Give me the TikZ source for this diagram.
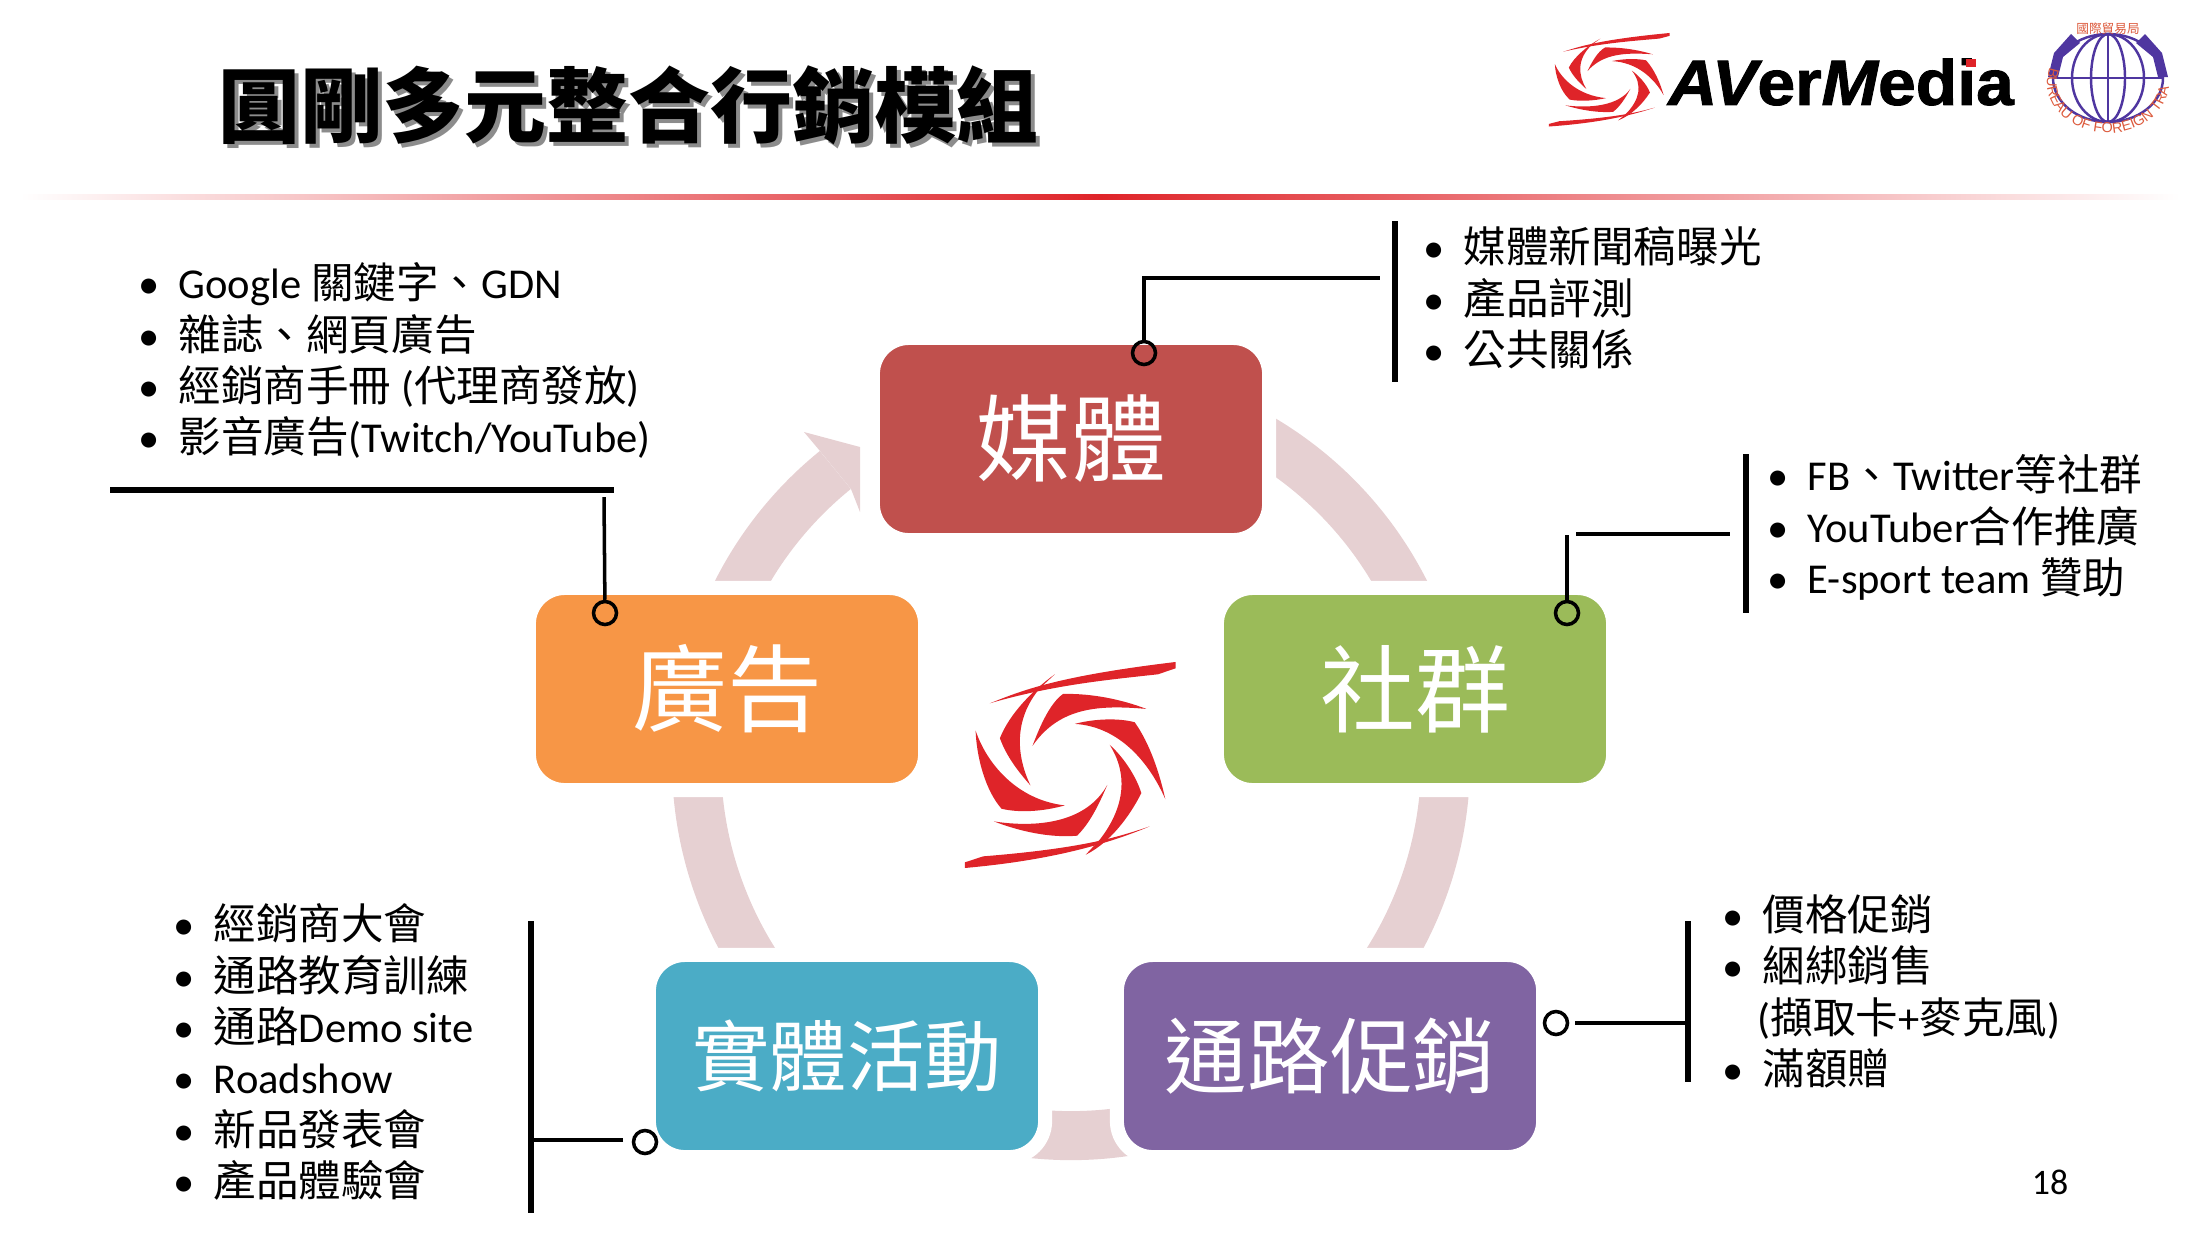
\documentclass[tikz,border=0pt]{standalone}
\usepackage{fontspec}
\usepackage{xcolor}
\usetikzlibrary{decorations.text}
\setmainfont{Carlito}
\newfontfamily\zhfont{Noto Sans CJK TC}
\newfontfamily\logofont{Liberation Sans}[FakeStretch=1.06,BoldFeatures={FakeBold=1.5},BoldItalicFeatures={FakeBold=1.5}]
\newfontfamily\sealfont{Liberation Sans}
\newcommand{\zh}[1]{{\zhfont #1}}
\newcommand{\bul}{\makebox[0.40cm][l]{•}}
\setlength{\lineskiplimit}{-30pt}
\definecolor{ringpink}{HTML}{E6D0D2}
\definecolor{swirlred}{HTML}{DF2429}
\definecolor{sealblue}{HTML}{4F36A0}
\definecolor{sealred}{HTML}{DC5A3C}
\definecolor{mediared}{HTML}{C0504D}
\definecolor{socialgreen}{HTML}{9BBB59}
\definecolor{advertorange}{HTML}{F79646}
\definecolor{eventteal}{HTML}{4BACC6}
\definecolor{channelpurple}{HTML}{8064A2}
\newcommand{\swirlshape}{%
  \fill[swirlred] (210,190) .. controls (300,155) and (400,110) .. (768,66) -- (768,85) -- (715,103) .. controls (560,120) and (400,135) .. (210,190) -- cycle;
  \fill[swirlred] (690,560) .. controls (600,590) and (500,625) .. (190,650) -- (135,668) -- (135,685) .. controls (300,670) and (500,640) .. (690,560) -- cycle;
  \fill[swirlred] (405,103) .. controls (340,150) and (270,220) .. (240,295) .. controls (260,350) and (295,395) .. (332,437) .. controls (290,350) and (280,240) .. (360,145) -- cycle;
  \fill[swirlred] (338,318) .. controls (360,260) and (390,190) .. (430,162) .. controls (520,160) and (610,180) .. (680,207) .. controls (540,195) and (420,200) .. (338,318) -- cycle;
  \fill[swirlred] (465,252) .. controls (530,235) and (600,235) .. (645,247) .. controls (690,310) and (720,400) .. (737,478) .. controls (690,370) and (600,260) .. (465,252) -- cycle;
  \fill[swirlred] (570,315) .. controls (610,350) and (650,410) .. (665,460) .. controls (630,530) and (570,610) .. (498,645) -- (540,600) .. controls (610,510) and (630,410) .. (570,315) -- cycle;
  \fill[swirlred] (563,435) .. controls (535,500) and (510,550) .. (472,588) .. controls (390,595) and (300,575) .. (222,545) .. controls (350,565) and (500,550) .. (563,435) -- cycle;
  \fill[swirlred] (167,272) .. controls (200,370) and (290,480) .. (435,497) .. controls (370,515) and (300,520) .. (245,507) .. controls (195,450) and (170,350) .. (167,272) -- cycle;
}

\begin{document}
\begin{tikzpicture}[
    x=0.01cm, y=-0.01cm,
    box/.style={rectangle, draw=white, line width=0.14cm, rounded corners=0.36cm, minimum width=3.96cm, minimum height=2.02cm, inner sep=0pt, text=white},
    wide/.style={box, minimum width=4.26cm},
    dot/.style={circle, draw=black, line width=1pt, minimum size=0.23cm, inner sep=0pt},
    bar/.style={line width=1.7pt, black},
    link/.style={line width=1.25pt, black},
    thinlink/.style={line width=1pt, black},
    ring/.style={draw=ringpink, line width=0.49cm},
    bullets/.style={anchor=north west, inner sep=0pt, align=left, font=\fontsize{12.1}{14.6}\selectfont}
]
\useasboundingbox (0,0) rectangle (2200,1238);

% Title and rule
\node[anchor=west, inner sep=0pt, text=black!45, font=\zhfont\bfseries\fontsize{23.3}{26}\selectfont] (titleshadow) at (222,109) {圓剛多元整合行銷模組};
\node[anchor=west, inner sep=0pt, font=\zhfont\bfseries\fontsize{23.3}{26}\selectfont] (title) at (218,105) {圓剛多元整合行銷模組};
\shade[left color=white, right color=white, middle color=swirlred] (20,194.5) rectangle (2180,199.5);

% Logos
\begin{scope}[shift={(1523,23)}, x=0.00191cm, y=-0.00151cm]
\swirlshape
\end{scope}
\node[inner sep=0pt, font=\logofont\bfseries\fontsize{18.2}{20}\selectfont] (avermedia) at (1841,82) {{\itshape AV}er{\itshape M}edia};
\fill[swirlred] (1966,59) rectangle (1976,67);

% Seal
\draw[sealblue, line width=0.7pt] (2108,78) ellipse (55 and 44);
\draw[sealblue, line width=0.7pt] (2108,78) ellipse (36 and 44);
\draw[sealblue, line width=0.7pt] (2108,78) ellipse (17 and 44);
\draw[sealblue, line width=0.7pt] (2108,34) -- (2108,122);
\draw[sealblue, line width=0.7pt] (2053,78) -- (2163,78);
\fill[sealblue] (2048,77) -- (2054,53) -- (2071,34) -- (2080,43) -- (2063,57) -- (2058,77) -- cycle;
\fill[sealblue] (2168,77) -- (2162,53) -- (2145,34) -- (2136,43) -- (2153,57) -- (2158,77) -- cycle;
\node[inner sep=0pt, text=sealred, font=\zhfont\fontsize{3.6}{4}\selectfont] (sealtop) at (2108,29) {國際貿易局};
\path[decorate, decoration={text along path, text color=sealred, text align=center, text={|\sealfont\fontsize{4.1}{5}\selectfont|BUREAU OF FOREIGN TRADE}}] (2047,83) arc[start angle=180, end angle=0, x radius=61, y radius=50];

% Ring behind the boxes
\coordinate (hub) at (1071,761);
\draw[ring] ([shift={(250:374.5)}]hub) arc[start angle=250, end angle=591, radius=374.5];
\fill[ringpink] (820,451) -- (804,432) -- (860,447) -- (860,512) -- (851,489) -- cycle;

% Boxes
\node[box, fill=mediared] (media) at (1071,439) {\zh{\fontsize{27}{30}\selectfont 媒體}};
\node[box, fill=socialgreen] (social) at (1415,689) {\zh{\fontsize{27}{30}\selectfont 社群}};
\node[box, fill=advertorange] (advert) at (727,689) {\zh{\fontsize{27}{30}\selectfont 廣告}};
\node[box, fill=eventteal] (event) at (847,1056) {\zh{\fontsize{22}{26}\selectfont 實體活動}};
\node[wide, fill=channelpurple] (channel) at (1330,1056) {\zh{\fontsize{23.5}{26}\selectfont 通路促銷}};

% Centre swirl
\begin{scope}[shift={(920,640)}, x=0.003333cm, y=-0.003333cm]
\swirlshape
\end{scope}

% Media callout
\node[dot] (mediaDot) at (1144,353) {};
\coordinate (mediaEnd) at (1380,278);
\coordinate (mediaBarA) at (1395,221);
\coordinate (mediaBarB) at (1395,382);
\draw[link] (mediaDot) |- (mediaEnd);
\draw[bar] (mediaBarA) -- (mediaBarB);
\node[bullets] (mediaList) at (1423,226) {\bul\zh{媒體新聞稿曝光}\\\bul\zh{產品評測}\\\bul\zh{公共關係}};

% Social callout
\node[dot] (socialDot) at (1567,613) {};
\coordinate (socialTop) at (1567,535);
\coordinate (socialA) at (1576,534);
\coordinate (socialEnd) at (1730,534);
\coordinate (socialBarA) at (1746,454);
\coordinate (socialBarB) at (1746,613);
\draw[thinlink] (socialDot) -- (socialTop);
\draw[link] (socialA) -- (socialEnd);
\draw[bar] (socialBarA) -- (socialBarB);
\node[bullets] (socialList) at (1767,454) {\bul FB\zh{、}Twitter\zh{等社群}\\\bul YouTuber\zh{合作推廣}\\\bul E-sport team \zh{贊助}};

% Channel callout
\node[dot] (channelDot) at (1556,1023) {};
\coordinate (channelEnd) at (1575,1023);
\coordinate (channelBarA) at (1688,921);
\coordinate (channelBarB) at (1688,1082);
\coordinate (channelJoin) at (1688,1023);
\draw[link] (channelEnd) -- (channelJoin);
\draw[bar] (channelBarA) -- (channelBarB);
\node[bullets] (channelList) at (1722,894) {\bul\zh{價格促銷}\\\bul\zh{綑綁銷售}\\\hspace{0.35cm}(\zh{擷取卡}+\zh{麥克風})\\\bul\zh{滿額贈}};

% Event callout
\node[dot] (eventDot) at (645,1142) {};
\coordinate (eventEnd) at (623,1140);
\coordinate (eventJoin) at (531,1140);
\coordinate (eventBarA) at (531,921);
\coordinate (eventBarB) at (531,1213);
\draw[link] (eventEnd) -- (eventJoin);
\draw[bar] (eventBarA) -- (eventBarB);
\node[bullets] (eventList) at (173,903) {\bul\zh{經銷商大會}\\\bul\zh{通路教育訓練}\\\bul\zh{通路}Demo site\\\bul Roadshow\\\bul\zh{新品發表會}\\\bul\zh{產品體驗會}};

% Advert callout
\node[dot] (advertDot) at (605,613) {};
\coordinate (advertTop) at (604,497);
\coordinate (advertBarA) at (110,490);
\coordinate (advertBarB) at (614,490);
\draw[thinlink] (advertDot) -- (advertTop);
\draw[bar] (advertBarA) -- (advertBarB);
\node[bullets] (advertList) at (138,262) {\bul Google \zh{關鍵字、}GDN\\\bul\zh{雜誌、網頁廣告}\\\bul\zh{經銷商手冊} (\zh{代理商發放})\\\bul\zh{影音廣告}(Twitch/YouTube)};

% Page number
\node[inner sep=0pt, font=\fontsize{10.2}{12}\selectfont] (pagenum) at (2050,1182) {18};
\end{tikzpicture}
\end{document}
